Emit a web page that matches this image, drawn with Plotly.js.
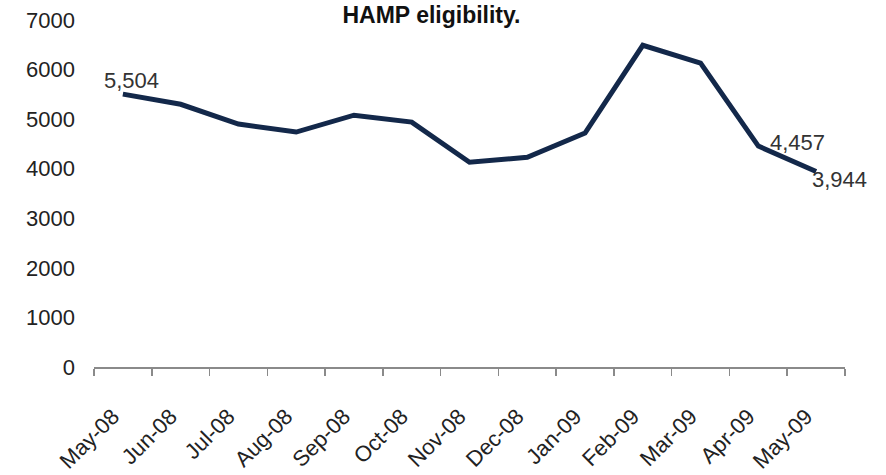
<!DOCTYPE html>
<html>
<head>
<meta charset="utf-8">
<script src="https://cdn.plot.ly/plotly-3.0.1.min.js"></script>
<style>html,body{margin:0;padding:0;background:#fff;}#chart{width:886px;height:475px;}</style>
</head>
<body>
<div id="chart"></div>
<script>
const months = ['May-08','Jun-08','Jul-08','Aug-08','Sep-08','Oct-08','Nov-08','Dec-08','Jan-09','Feb-09','Mar-09','Apr-09','May-09'];
const values = [5504, 5300, 4900, 4740, 5080, 4940, 4130, 4230, 4720, 6490, 6130, 4457, 3944];
const labelIdx = [0, 11, 12];
const labelText = ['5,504', '4,457', '3,944'];
const yTicks = [0, 1000, 2000, 3000, 4000, 5000, 6000, 7000];

const labelOffsets = [{xs: 9, ys: 14}, {xs: 39, ys: 4}, {xs: 23, ys: -8}];

const annotations = labelIdx.map((idx, k) => ({
  x: months[idx], y: values[idx], xref: 'x', yref: 'y',
  text: labelText[k], showarrow: false,
  xshift: labelOffsets[k].xs, yshift: labelOffsets[k].ys,
  font: {family: 'Liberation Sans, Arial, sans-serif', size: 22, color: '#333'}
}));

const trace = {
  x: months, y: values, type: 'scatter', mode: 'lines',
  line: {color: '#13284a', width: 5},
  hoverinfo: 'skip'
};

const layout = {
  width: 886, height: 475,
  margin: {l: 94, r: 41, t: 20, b: 108},
  paper_bgcolor: '#fff', plot_bgcolor: '#fff',
  showlegend: false,
  title: {text: '<b>HAMP eligibility.</b>', xref: 'container', yref: 'container', x: 0.487, xanchor: 'center', y: 1, yanchor: 'top',
    pad: {t: 7},
    font: {family: 'Liberation Sans, Arial, sans-serif', size: 23, color: '#111'}},
  xaxis: {
    type: 'category', range: [-0.5, 12.5], tickson: 'boundaries',
    showgrid: false, zeroline: false, showline: true, linecolor: '#8a8a8a', linewidth: 2,
    ticks: 'outside', ticklen: 7, tickcolor: '#8a8a8a', tickwidth: 1.5,
    tickangle: -45, ticklabelstandoff: 26, ticklabelshift: -10,
    tickfont: {family: 'Liberation Sans, Arial, sans-serif', size: 22, color: '#222'}
  },
  yaxis: {
    range: [0, 7000], tickvals: yTicks, ticktext: yTicks.map(String),
    showgrid: false, zeroline: false, showline: false, ticks: '',
    ticklabelstandoff: 18,
    tickfont: {family: 'Liberation Sans, Arial, sans-serif', size: 22, color: '#222'}
  },
  annotations: annotations
};

Plotly.newPlot('chart', [trace], layout, {staticPlot: true, displayModeBar: false});
</script>
</body>
</html>
